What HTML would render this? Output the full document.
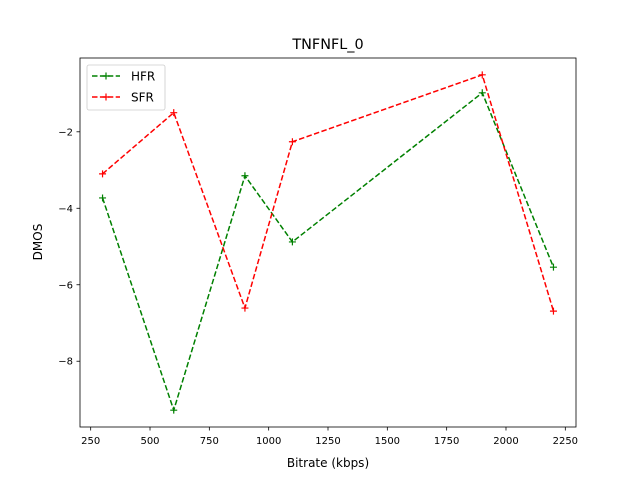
<!DOCTYPE html>
<html><head><meta charset="utf-8"><style>
body{margin:0;background:#fff}
svg text{font-family:"DejaVu Sans","Liberation Sans",sans-serif;fill:#000}
</style></head><body>
<svg id="chart" width="640" height="480" xmlns="http://www.w3.org/2000/svg">
<rect width="640" height="480" fill="#fff"/>
<text x="328" y="49" font-size="14.4" text-anchor="middle">TNFNFL_0</text>
<g id="plot"></g>
<text x="328" y="467" font-size="12" text-anchor="middle">Bitrate (kbps)</text>
<text transform="translate(42,242) rotate(-90)" font-size="12" text-anchor="middle">DMOS</text>
</svg>
<script>
const bitrates=[300,600,900,1100,1900,2200];
const hfr=[-3.73,-9.28,-3.15,-4.88,-0.98,-5.54];
const sfr=[-3.10,-1.50,-6.61,-2.26,-0.51,-6.69];
const xTicks=[250,500,750,1000,1250,1500,1750,2000,2250];
const yTicks=[-8,-6,-4,-2];
const L=80,R=576,T=58,B=427;
const xMin=205,xMax=2295,yMin=-9.72,yMax=-0.07;
const sx=v=>L+(v-xMin)/(xMax-xMin)*(R-L);
const sy=v=>B-(v-yMin)/(yMax-yMin)*(B-T);
const NS="http://www.w3.org/2000/svg";
const g=document.getElementById('plot');
function mk(tag,attrs){const e=document.createElementNS(NS,tag);for(const k in attrs)e.setAttribute(k,attrs[k]);g.appendChild(e);return e;}
xTicks.forEach(t=>{
  const x=sx(t);
  const l=mk('line',{x1:x,x2:x,y1:B,y2:B+3.5,stroke:'#000','stroke-width':0.8});
  
  
  const tx=mk('text',{x:x,y:B+17,'font-size':10,'text-anchor':'middle'});tx.textContent=t;
  
  
});
yTicks.forEach(t=>{
  const y=sy(t);
  const l=mk('line',{x1:L-3.5,x2:L,y1:y,y2:y,stroke:'#000','stroke-width':0.8});
  
  
  const tx=mk('text',{x:L-7,y:y+3.5,'font-size':10,'text-anchor':'end'});tx.textContent='\u2212'+Math.abs(t);
  
  
});
function series(vals,color,name){
  const pts=bitrates.map((b,i)=>sx(b)+','+sy(vals[i])).join(' ');
  const pl=mk('polyline',{points:pts,fill:'none',stroke:color,'stroke-width':1.5,'stroke-dasharray':'5.5,2.4'});
  
  
  bitrates.forEach((b,i)=>{
    const x=sx(b),y=sy(vals[i]);
    const p=mk('path',{d:`M${x-3.5},${y}H${x+3.5}M${x},${y-3.5}V${y+3.5}`,stroke:color,'stroke-width':1.2});
    
    
  });
}
series(hfr,'#008000','hfr');
series(sfr,'#ff0000','sfr');
const fr=mk('rect',{x:L,y:T,width:R-L,height:B-T,fill:'none',stroke:'#000','stroke-width':0.8});


const lg=mk('rect',{x:87,y:65,width:78,height:45,rx:2,fill:'#fff','fill-opacity':0.8,stroke:'#ccc','stroke-width':0.8});


[['HFR','#008000',76],['SFR','#ff0000',97]].forEach(([n,c,y])=>{
  const l=mk('line',{x1:92,x2:120,y1:y,y2:y,stroke:c,'stroke-width':1.5,'stroke-dasharray':'5.5,2.4'});
  
  
  const p=mk('path',{d:`M102.5,${y}H109.5M106,${y-3.5}V${y+3.5}`,stroke:c,'stroke-width':1.2});
  
  
  const t=mk('text',{x:131,y:y+4.5,'font-size':12});t.textContent=n;
  
  
});
</script>
</body></html>
